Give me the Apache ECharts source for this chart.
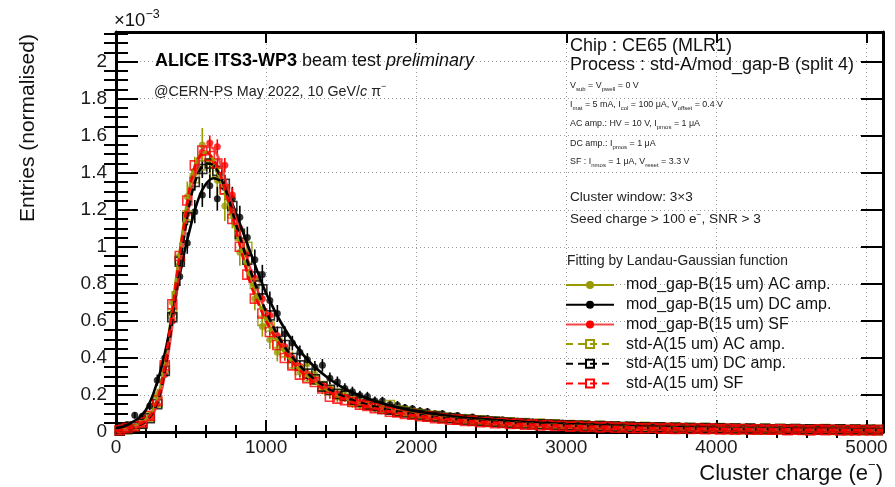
<!DOCTYPE html>
<html>
<head>
<meta charset="utf-8">
<script src="https://cdn.jsdelivr.net/npm/echarts@6/dist/echarts.min.js"></script>
<style>
  html, body { margin: 0; padding: 0; background: #fff; }
  #chart { width: 895px; height: 487px; }
</style>
</head>
<body>
<div id="chart"></div>
<script>
// ---------------------------------------------------------------------------
// Cluster-charge spectra (entries normalised, in units of 1e-3)
// 50 e- wide bins, centred at 25, 75, ..., 5075 e-
// ---------------------------------------------------------------------------
const BIN_WIDTH = 50;
const N_BINS = 102;
const binCenters = Array.from({ length: N_BINS }, (_, i) => BIN_WIDTH * (i + 0.5));

const X_TICKS = [0, 1000, 2000, 3000, 4000, 5000];
const Y_TICKS = [0, 0.2, 0.4, 0.6, 0.8, 1, 1.2, 1.4, 1.6, 1.8, 2];

// mod_gap-B (15 um) AC amp.
const MODGAPB_AC = [
  0.010, 0.020, 0.025, 0.060, 0.085, 0.20, 0.37, 0.70, 0.95, 1.27,
  1.40, 1.55, 1.46, 1.36, 1.22, 1.18, 0.97, 0.91, 0.72, 0.57,
  0.50, 0.43, 0.45, 0.39, 0.33, 0.37, 0.31, 0.24, 0.23, 0.19,
  0.20, 0.16, 0.15, 0.155, 0.13, 0.14, 0.12, 0.105, 0.11, 0.092,
  0.094, 0.080, 0.083, 0.070, 0.075, 0.066, 0.070, 0.058, 0.062, 0.055,
  0.058, 0.048, 0.053, 0.045, 0.050, 0.041, 0.045, 0.038, 0.040, 0.035,
  0.038, 0.031, 0.035, 0.029, 0.033, 0.027, 0.031, 0.026, 0.028, 0.024,
  0.027, 0.022, 0.025, 0.021, 0.024, 0.020, 0.022, 0.019, 0.021, 0.017,
  0.020, 0.016, 0.019, 0.021, 0.015, 0.020, 0.014, 0.017, 0.013, 0.016,
  0.014, 0.015, 0.012, 0.015, 0.018, 0.011, 0.013, 0.012, 0.014, 0.010,
  0.012, 0.011
];
// mod_gap-B (15 um) DC amp.
const MODGAPB_DC = [
  0.025, 0.040, 0.090, 0.085, 0.140, 0.28, 0.40, 0.64, 0.84, 1.02,
  1.19, 1.28, 1.33, 1.26, 1.32, 1.26, 1.16, 1.05, 0.93, 0.85,
  0.71, 0.64, 0.53, 0.48, 0.43, 0.39, 0.35, 0.36, 0.29, 0.27,
  0.235, 0.218, 0.197, 0.192, 0.168, 0.167, 0.148, 0.145, 0.131, 0.125,
  0.114, 0.110, 0.099, 0.099, 0.088, 0.089, 0.079, 0.081, 0.072, 0.073,
  0.066, 0.066, 0.060, 0.060, 0.055, 0.056, 0.051, 0.051, 0.046, 0.048,
  0.042, 0.044, 0.039, 0.041, 0.036, 0.038, 0.033, 0.036, 0.031, 0.034,
  0.029, 0.032, 0.027, 0.030, 0.025, 0.028, 0.024, 0.027, 0.022, 0.025,
  0.021, 0.024, 0.020, 0.023, 0.019, 0.022, 0.018, 0.021, 0.017, 0.020,
  0.016, 0.019, 0.016, 0.018, 0.015, 0.017, 0.015, 0.016, 0.014, 0.016,
  0.013, 0.015
];
// mod_gap-B (15 um) SF
const MODGAPB_SF = [
  0.008, 0.016, 0.027, 0.046, 0.074, 0.15, 0.31, 0.60, 0.90, 1.18,
  1.41, 1.51, 1.56, 1.54, 1.44, 1.28, 1.10, 0.96, 0.83, 0.72,
  0.63, 0.52, 0.46, 0.40, 0.355, 0.315, 0.28, 0.25, 0.23, 0.205,
  0.188, 0.166, 0.158, 0.141, 0.130, 0.121, 0.115, 0.104, 0.100, 0.091,
  0.089, 0.080, 0.079, 0.071, 0.070, 0.063, 0.063, 0.057, 0.057, 0.050,
  0.051, 0.046, 0.046, 0.041, 0.042, 0.037, 0.039, 0.034, 0.035, 0.031,
  0.032, 0.029, 0.030, 0.026, 0.028, 0.024, 0.026, 0.022, 0.025, 0.020,
  0.023, 0.019, 0.021, 0.018, 0.020, 0.017, 0.018, 0.016, 0.017, 0.015,
  0.017, 0.013, 0.016, 0.013, 0.014, 0.012, 0.013, 0.013, 0.011, 0.013,
  0.010, 0.012, 0.011, 0.009, 0.012, 0.010, 0.010, 0.008, 0.011, 0.009,
  0.010, 0.008
];
// std-A (15 um) AC amp.
const STDA_AC = [
  0.008, 0.015, 0.029, 0.044, 0.082, 0.16, 0.35, 0.64, 0.93, 1.17,
  1.37, 1.44, 1.45, 1.40, 1.31, 1.18, 1.06, 1.00, 0.80, 0.60,
  0.57, 0.48, 0.43, 0.37, 0.335, 0.30, 0.283, 0.248, 0.224, 0.207,
  0.193, 0.168, 0.161, 0.148, 0.141, 0.128, 0.146, 0.116, 0.110, 0.099,
  0.097, 0.087, 0.087, 0.077, 0.076, 0.069, 0.069, 0.061, 0.063, 0.056,
  0.057, 0.051, 0.052, 0.047, 0.048, 0.042, 0.045, 0.039, 0.041, 0.036,
  0.038, 0.033, 0.036, 0.030, 0.033, 0.028, 0.031, 0.026, 0.030, 0.024,
  0.028, 0.023, 0.026, 0.021, 0.025, 0.020, 0.023, 0.019, 0.022, 0.017,
  0.021, 0.016, 0.020, 0.015, 0.019, 0.014, 0.018, 0.014, 0.017, 0.013,
  0.016, 0.013, 0.015, 0.012, 0.016, 0.011, 0.014, 0.011, 0.013, 0.011,
  0.012, 0.010
];
// std-A (15 um) DC amp.
const STDA_DC = [
  0.007, 0.016, 0.026, 0.045, 0.074, 0.15, 0.33, 0.62, 0.92, 1.16,
  1.35, 1.42, 1.45, 1.41, 1.34, 1.22, 1.07, 0.93, 0.84, 0.77,
  0.63, 0.54, 0.47, 0.40, 0.36, 0.315, 0.285, 0.245, 0.228, 0.205,
  0.196, 0.174, 0.162, 0.148, 0.141, 0.124, 0.121, 0.110, 0.105, 0.097,
  0.093, 0.085, 0.083, 0.076, 0.074, 0.068, 0.066, 0.061, 0.060, 0.055,
  0.055, 0.050, 0.050, 0.046, 0.046, 0.042, 0.042, 0.039, 0.039, 0.036,
  0.036, 0.033, 0.034, 0.031, 0.032, 0.029, 0.030, 0.027, 0.028, 0.025,
  0.026, 0.024, 0.025, 0.022, 0.023, 0.021, 0.022, 0.019, 0.021, 0.018,
  0.020, 0.017, 0.019, 0.016, 0.018, 0.015, 0.017, 0.015, 0.016, 0.014,
  0.016, 0.013, 0.015, 0.013, 0.014, 0.012, 0.014, 0.011, 0.013, 0.011,
  0.012, 0.011
];
// std-A (15 um) SF
const STDA_SF = [
  0.010, 0.022, 0.031, 0.052, 0.088, 0.17, 0.36, 0.69, 0.95, 1.25,
  1.44, 1.52, 1.49, 1.45, 1.31, 1.15, 1.00, 0.85, 0.72, 0.64,
  0.54, 0.47, 0.40, 0.36, 0.31, 0.29, 0.27, 0.235, 0.19, 0.18,
  0.172, 0.162, 0.148, 0.141, 0.128, 0.124, 0.109, 0.106, 0.097, 0.093,
  0.085, 0.083, 0.075, 0.073, 0.066, 0.067, 0.059, 0.060, 0.053, 0.054,
  0.047, 0.049, 0.043, 0.045, 0.039, 0.041, 0.035, 0.038, 0.032, 0.034,
  0.029, 0.032, 0.027, 0.030, 0.025, 0.028, 0.023, 0.026, 0.022, 0.021,
  0.020, 0.023, 0.018, 0.021, 0.017, 0.020, 0.016, 0.019, 0.015, 0.018,
  0.014, 0.017, 0.013, 0.016, 0.012, 0.015, 0.012, 0.013, 0.014, 0.010,
  0.013, 0.011, 0.009, 0.013, 0.010, 0.012, 0.008, 0.011, 0.009, 0.011,
  0.008, 0.010
];

// Landau (x) Gaussian fit results, sampled along the charge axis
const FIT_X = [0, 50, 100, 150, 200, 250, 300, 350, 400, 450, 500, 550, 600, 650, 700, 750, 800, 850, 900, 950,
               1000, 1100, 1200, 1300, 1400, 1500, 1600, 1800, 2000, 2250, 2500, 2750, 3000, 3500, 4000, 4500, 5110];
const FIT_MODGAPB_AC = [0.005, 0.012, 0.022, 0.040, 0.068, 0.125, 0.26, 0.52, 0.83, 1.12, 1.36, 1.49, 1.51, 1.47, 1.37, 1.23, 1.08, 0.94, 0.81, 0.70,
                        0.60, 0.455, 0.355, 0.285, 0.23, 0.19, 0.16, 0.12, 0.093, 0.071, 0.056, 0.045, 0.036, 0.025, 0.019, 0.015, 0.011];
const FIT_MODGAPB_DC = [0.020, 0.030, 0.050, 0.075, 0.12, 0.21, 0.34, 0.52, 0.74, 0.95, 1.12, 1.26, 1.34, 1.37, 1.35, 1.28, 1.18, 1.07, 0.96, 0.85,
                        0.75, 0.59, 0.465, 0.37, 0.30, 0.245, 0.205, 0.148, 0.112, 0.084, 0.066, 0.053, 0.043, 0.030, 0.022, 0.017, 0.013];
const FIT_MODGAPB_SF = [0.004, 0.010, 0.018, 0.032, 0.055, 0.10, 0.21, 0.43, 0.73, 1.03, 1.28, 1.46, 1.54, 1.53, 1.44, 1.30, 1.15, 1.00, 0.87, 0.75,
                        0.65, 0.49, 0.38, 0.30, 0.24, 0.195, 0.163, 0.12, 0.092, 0.070, 0.054, 0.043, 0.035, 0.024, 0.018, 0.014, 0.011];
const FIT_STDA_AC    = [0.005, 0.011, 0.020, 0.036, 0.062, 0.115, 0.24, 0.48, 0.78, 1.06, 1.28, 1.41, 1.45, 1.43, 1.35, 1.23, 1.09, 0.96, 0.83, 0.72,
                        0.62, 0.47, 0.365, 0.29, 0.235, 0.195, 0.163, 0.122, 0.095, 0.072, 0.057, 0.046, 0.037, 0.026, 0.019, 0.015, 0.011];
const FIT_STDA_DC    = [0.005, 0.011, 0.020, 0.035, 0.060, 0.11, 0.23, 0.46, 0.76, 1.04, 1.27, 1.40, 1.45, 1.44, 1.37, 1.26, 1.12, 0.99, 0.86, 0.75,
                        0.65, 0.49, 0.38, 0.30, 0.24, 0.198, 0.165, 0.122, 0.094, 0.071, 0.056, 0.045, 0.036, 0.025, 0.018, 0.014, 0.011];
const FIT_STDA_SF    = [0.005, 0.012, 0.022, 0.038, 0.065, 0.12, 0.25, 0.50, 0.81, 1.10, 1.35, 1.48, 1.51, 1.47, 1.38, 1.24, 1.09, 0.93, 0.79, 0.69,
                        0.60, 0.46, 0.355, 0.28, 0.225, 0.185, 0.155, 0.115, 0.089, 0.067, 0.052, 0.041, 0.033, 0.023, 0.017, 0.013, 0.010];

// Statistical uncertainty at the peak, per sample
const PEAK_ERR = { modAC: 0.09, modDC: 0.07, modSF: 0.04, stdAC: 0.06, stdDC: 0.05, stdSF: 0.03 };

// ---------------------------------------------------------------------------
const OLIVE = '#999900';
const BLACK = '#000000';
const RED = '#ff0000';
const FONT = '"Liberation Sans", Arial, Helvetica, sans-serif';

const SAMPLES = [
  { name: 'mod_gap-B(15 um) AC amp.', values: MODGAPB_AC, fit: FIT_MODGAPB_AC, err: PEAK_ERR.modAC, color: OLIVE, line: OLIVE, filled: true },
  { name: 'mod_gap-B(15 um) DC amp.', values: MODGAPB_DC, fit: FIT_MODGAPB_DC, err: PEAK_ERR.modDC, color: BLACK, line: BLACK, filled: true },
  { name: 'mod_gap-B(15 um) SF',      values: MODGAPB_SF, fit: FIT_MODGAPB_SF, err: PEAK_ERR.modSF, color: RED, line: 'rgba(240,40,40,0.85)', filled: true },
  { name: 'std-A(15 um) AC amp.',     values: STDA_AC,    fit: FIT_STDA_AC,    err: PEAK_ERR.stdAC, color: OLIVE, line: OLIVE, filled: false },
  { name: 'std-A(15 um) DC amp.',     values: STDA_DC,    fit: FIT_STDA_DC,    err: PEAK_ERR.stdDC, color: BLACK, line: BLACK, filled: false },
  { name: 'std-A(15 um) SF',          values: STDA_SF,    fit: FIT_STDA_SF,    err: PEAK_ERR.stdSF, color: RED, line: RED, filled: false }
];

const X_MAX = 5110;
const Y_MAX = 2.16;

// minor tick positions (5 divisions in x, 4 in y)
const xMinor = [];
for (let v = 200; v < X_MAX; v += 200) if (v % 1000 !== 0) xMinor.push(v);
const yMinor = [];
for (let k = 1; k * 0.05 < Y_MAX; k++) if (k % 4 !== 0) yMinor.push(+(k * 0.05).toFixed(2));

function errorBarItem(color) {
  return function (params, api) {
    const p1 = api.coord([api.value(0), api.value(1)]);
    const p2 = api.coord([api.value(0), api.value(2)]);
    return {
      type: 'line',
      shape: { x1: p1[0], y1: p1[1], x2: p2[0], y2: p2[1] },
      style: { stroke: color, lineWidth: 1.6 }
    };
  };
}

const series = [];
SAMPLES.forEach(s => {
  const pts = binCenters.map((x, i) => [x, s.values[i]]);
  const markerStyle = s.filled
    ? { color: s.color }
    : { color: 'rgba(255,255,255,0)', borderColor: s.color, borderWidth: 1.6 };
  series.push({
    name: s.name + ' stat', type: 'custom', silent: true, clip: true, z: 2,
    renderItem: errorBarItem(s.color),
    encode: { x: 0, y: [1, 2] },
    data: pts.map(([x, y]) => {
      const e = s.err * Math.sqrt(y / 1.5);
      return [x, Math.max(y - e, 0), y + e];
    })
  });
  series.push({
    name: s.name + ' points', type: 'scatter', silent: true, z: 3,
    symbol: s.filled ? 'circle' : 'rect',
    symbolSize: s.filled ? 7 : 9,
    itemStyle: markerStyle,
    data: pts
  });
  series.push({
    name: s.name, type: 'line', silent: true, z: 4,
    smooth: 0.35, showSymbol: false,
    symbol: s.filled ? 'circle' : 'rect',
    symbolSize: s.filled ? 7 : 9,
    itemStyle: markerStyle,
    lineStyle: { color: s.line, width: 2.6, type: s.filled ? 'solid' : [7, 5] },
    data: FIT_X.map((x, i) => [x, s.fit[i]])
  });
});

const frame = { show: true, onZero: false, lineStyle: { color: '#000', width: 3 } };
const gridDots = { show: true, lineStyle: { color: '#9a9a9a', width: 1, type: [1, 3] } };
const labelStyle = { fontFamily: FONT, fontSize: 19, color: '#1a1a1a', formatter: v => String(v) };

function axisPair(kind, pos, majorLen, minorLen, withLabels, ticks, minorTicks, max) {
  const common = { type: 'value', min: 0, max: max, position: pos };
  const major = Object.assign({}, common, {
    axisLine: frame,
    axisTick: { show: true, inside: true, length: majorLen, customValues: ticks, lineStyle: { color: '#000', width: 2 } },
    axisLabel: withLabels
      ? Object.assign({ show: true, customValues: ticks, margin: kind === 'x' ? 6 : 9 }, labelStyle)
      : { show: false },
    splitLine: withLabels ? Object.assign({}, gridDots) : { show: false }
  });
  const minor = Object.assign({}, common, {
    axisLine: { show: false },
    axisTick: { show: true, inside: true, length: minorLen, customValues: minorTicks, lineStyle: { color: '#000', width: 2 } },
    axisLabel: { show: false },
    splitLine: { show: false }
  });
  return [major, minor];
}

const xAxes = [
  ...axisPair('x', 'bottom', 12, 7, true, X_TICKS, xMinor, X_MAX),
  ...axisPair('x', 'top', 11, 6, false, X_TICKS, xMinor, X_MAX)
];
const yAxes = [
  ...axisPair('y', 'left', 22, 12, true, Y_TICKS, yMinor, Y_MAX),
  ...axisPair('y', 'right', 22, 12, false, Y_TICKS, yMinor, Y_MAX)
];

const sub = { fontFamily: FONT, fontSize: 6, lineHeight: 13, verticalAlign: 'bottom', fill: '#222' };
const small = { fontFamily: FONT, fontSize: 8.9, lineHeight: 13, verticalAlign: 'middle', fill: '#222' };

function textEl(x, y, text, opts) {
  return Object.assign({ type: 'text', x: x, y: y, silent: true, z: 50,
    style: Object.assign({ text: text, fill: '#111', verticalAlign: 'middle', align: 'left' }, opts || {}) });
}

const graphics = [
  // axis titles
  { type: 'text', x: 28, y: 128, rotation: Math.PI / 2, silent: true,
    style: { text: 'Entries (normalised)', font: '21px ' + FONT, fill: '#111', align: 'center', verticalAlign: 'middle' } },
  textEl(883, 472, '{n|Cluster charge (e}{s|−}{n|)}', {
    align: 'right',
    rich: { n: { fontFamily: FONT, fontSize: 22, lineHeight: 26, verticalAlign: 'bottom', fill: '#111' },
            s: { fontFamily: FONT, fontSize: 13, lineHeight: 26, verticalAlign: 'top', fill: '#111' } }
  }),
  textEl(114, 19, '{n|×10}{s|−3}', {
    rich: { n: { fontFamily: FONT, fontSize: 18.5, lineHeight: 22, verticalAlign: 'bottom', fill: '#111' },
            s: { fontFamily: FONT, fontSize: 12.5, lineHeight: 22, verticalAlign: 'top', fill: '#111' } }
  }),
  // experiment label
  textEl(155, 61, '{b|ALICE ITS3-WP3} {n|beam test} {i|preliminary}', {
    font: '18px ' + FONT,
    rich: { b: { fontFamily: FONT, fontSize: 18, fontWeight: 'bold', fill: '#000' },
            n: { fontFamily: FONT, fontSize: 18, fill: '#111' },
            i: { fontFamily: FONT, fontSize: 18, fontStyle: 'italic', fill: '#111' } }
  }),
  textEl(154, 91, '{n|@CERN-PS May 2022, 10 GeV/}{i|c}{n| π}{s|−}', {
    rich: { n: { fontFamily: FONT, fontSize: 14.3, lineHeight: 17, verticalAlign: 'bottom', fill: '#222' },
            i: { fontFamily: FONT, fontSize: 14.3, lineHeight: 17, verticalAlign: 'bottom', fontStyle: 'italic', fill: '#222' },
            s: { fontFamily: FONT, fontSize: 9, lineHeight: 17, verticalAlign: 'top', fill: '#222' } }
  }),
  // sensor and operating conditions
  textEl(570, 46, 'Chip : CE65 (MLR1)', { font: '18px ' + FONT }),
  textEl(570, 65, 'Process : std-A/mod_gap-B (split 4)', { font: '18px ' + FONT }),
  textEl(570, 86, '{t|V}{s|sub}{t| = V}{s|pwell}{t| = 0 V}', { rich: { t: small, s: sub } }),
  textEl(570, 105, '{t|I}{s|mat}{t| = 5 mA, I}{s|col}{t| = 100 μA, V}{s|offset}{t| = 0.4 V}', { rich: { t: small, s: sub } }),
  textEl(570, 124, '{t|AC amp.: HV = 10 V, I}{s|pmos}{t| = 1 μA}', { rich: { t: small, s: sub } }),
  textEl(570, 144, '{t|DC amp.: I}{s|pmos}{t| = 1 μA}', { rich: { t: small, s: sub } }),
  textEl(570, 162, '{t|SF : I}{s|nmos}{t| = 1 μA, V}{s|reset}{t| = 3.3 V}', { rich: { t: small, s: sub } }),
  textEl(570, 197, 'Cluster window: 3×3', { font: '13.6px ' + FONT, fill: '#222' }),
  textEl(570, 218, '{n|Seed charge > 100 e}{s|−}{n|, SNR > 3}', {
    rich: { n: { fontFamily: FONT, fontSize: 13.6, lineHeight: 16, verticalAlign: 'bottom', fill: '#222' },
            s: { fontFamily: FONT, fontSize: 8.5, lineHeight: 16, verticalAlign: 'top', fill: '#222' } }
  }),
  textEl(567, 261, 'Fitting by Landau-Gaussian function', { font: '13.8px ' + FONT, fill: '#222' })
];

const chart = echarts.init(document.getElementById('chart'), null, { renderer: 'canvas' });
chart.setOption({
  animation: false,
  backgroundColor: '#ffffff',
  textStyle: { fontFamily: FONT },
  grid: { left: 116, right: 12, top: 32, bottom: 55, containLabel: false, outerBoundsMode: 'none' },
  xAxis: xAxes.map(a => Object.assign(a, { gridIndex: 0 })),
  yAxis: yAxes.map(a => Object.assign(a, { gridIndex: 0 })),
  legend: {
    data: SAMPLES.map(s => s.name),
    orient: 'vertical',
    left: 560,
    top: 272,
    itemWidth: 48,
    itemHeight: 10,
    itemGap: 3.7,
    selectedMode: false,
    textStyle: { fontFamily: FONT, fontSize: 16, color: '#111', padding: [0, 0, 0, 7] }
  },
  graphic: graphics,
  series: series.map(s => Object.assign(s, { xAxisIndex: 0, yAxisIndex: 0 }))
});
</script>
</body>
</html>
